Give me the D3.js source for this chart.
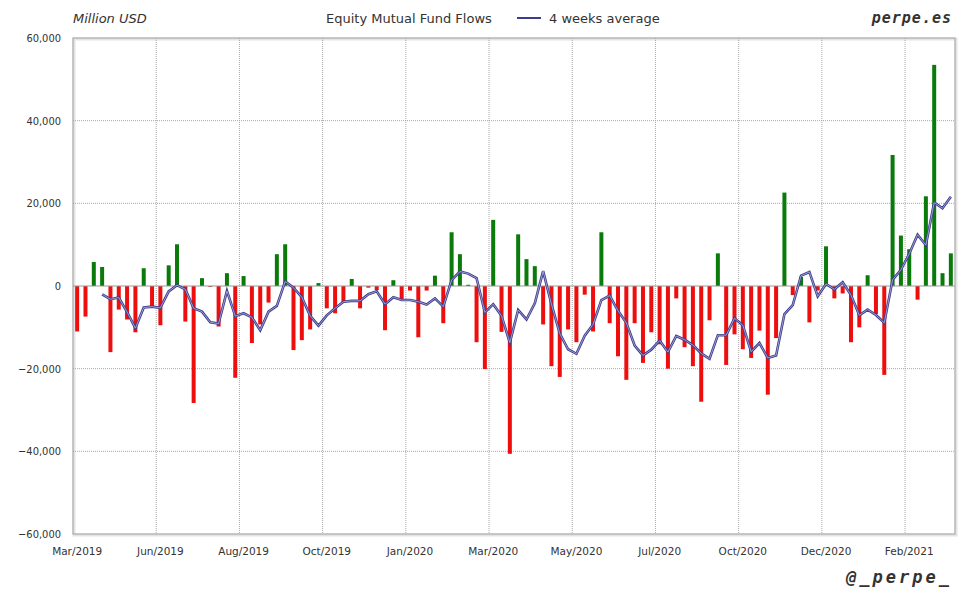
<!DOCTYPE html>
<html>
<head>
<meta charset="utf-8">
<script src="https://cdn.jsdelivr.net/npm/d3@7"></script>
<style>
  body { margin: 0; background: #fff; }
  text { font-family: "DejaVu Sans Condensed", "DejaVu Sans", sans-serif; fill: #333; }
</style>
</head>
<body>
<div id="chart"></div>
<script>
var svgWidth = 980;
var svgHeight = 600;

var margin = { top: 38, right: 25, bottom: 66, left: 73 };
var width = svgWidth - margin.left - margin.right;
var height = svgHeight - margin.top - margin.bottom;

// weekly flows, million USD
var flows = [
  -11000, -7400, 5800, 4600, -16000, -5700, -8100, -11200, 4300, -5000,
  -9500, 5000, 10100, -8600, -28300, 1900, -200, -9800, 3100, -22200,
  2400, -13800, -9300, -4000, 7700, 10100, -15500, -13100, -10500, 700,
  -5400, -6600, -4000, 1700, -5400, -400, -1000, -10700, 1400, -3300,
  -1100, -12400, -1100, 2500, -9000, 13000, 7700, 300, -13600, -20100,
  16000, -11100, -40600, 12500, 6500, 4800, -9300, -19400, -22000, -10500,
  -13600, -2100, -11000, 13000, -9000, -17000, -22700, -9000, -18600, -11200,
  -14100, -20000, -3000, -14800, -19400, -28000, -8300, 7900, -19100, -11700,
  -15300, -17400, -10800, -26300, -12600, 22600, -2200, 2200, -8800, -1100,
  9600, -3000, -1800, -13600, -10000, 2600, -6800, -21500, 31700, 12200,
  8900, -3300, 21700, 53500, 3100, 7900
];

// 4 weeks average line, starts at the 4th week
var avgStart = 3;
var avg4 = [
  -2000, -3200, -2800, -6300, -10200, -5200, -5000, -5300, -1300, 200,
  -800, -5400, -6200, -8800, -9100, -1200, -7300, -6600, -7600, -10700,
  -6200, -4800, 1100, -400, -2700, -7200, -9600, -7100, -5400, -3800,
  -3600, -3600, -2000, -1300, -4400, -2700, -3400, -3400, -3800, -4500,
  -3000, -5000, 1400, 3500, 3000, 1900, -6400, -4400, -7200, -13700,
  -5800, -8100, -4200, 3600, -4400, -11500, -15300, -16400, -12000, -9300,
  -3400, -2300, -6000, -8900, -14400, -16800, -15400, -13200, -16000, -12100,
  -13000, -14300, -16300, -17600, -11900, -11900, -7800, -9500, -15900, -13800,
  -17400, -16800, -6800, -4600, 2500, 3400, -2500, 500, -800, 900,
  -2200, -7100, -5700, -7000, -8900, 1500, 3900, 7800, 12400, 9900,
  20200, 18800, 21600
];

var tickLabels = ["Mar/2019", "Jun/2019", "Aug/2019", "Oct/2019", "Jan/2020", "Mar/2020",
  "May/2020", "Jul/2020", "Oct/2020", "Dec/2020", "Feb/2021"];
var tickEvery = 10;
var yTicks = [-60000, -40000, -20000, 0, 20000, 40000, 60000];

var svg = d3.select("#chart")
  .append("svg")
  .attr("width", svgWidth)
  .attr("height", svgHeight);

var chartGroup = svg.append("g")
  .attr("transform", `translate(${margin.left}, ${margin.top})`);

// scales
var xScale = d3.scaleBand()
  .domain(flows.map((d, i) => i))
  .range([0, width])
  .paddingInner(0.52)
  .paddingOuter(0.26);

var step = xScale.step();

var yScale = d3.scaleLinear()
  .domain([-60000, 60000])
  .range([height, 0]);

// plot frame shadow
chartGroup.append("rect")
  .attr("x", 1).attr("y", 1)
  .attr("width", width).attr("height", height)
  .attr("fill", "none")
  .attr("stroke", "#e4e4e4")
  .attr("stroke-width", 3);

// grid
chartGroup.selectAll(".hgrid")
  .data(yTicks.filter(d => d != 60000 && d != -60000 && d != 0))
  .enter()
  .append("line")
  .attr("x1", 0).attr("x2", width)
  .attr("y1", d => yScale(d)).attr("y2", d => yScale(d))
  .attr("stroke", "#a8a8a8")
  .attr("stroke-dasharray", "1,1");

chartGroup.selectAll(".vgrid")
  .data(tickLabels.map((d, i) => i * tickEvery).filter(d => d > 0))
  .enter()
  .append("line")
  .attr("x1", d => d * step).attr("x2", d => d * step)
  .attr("y1", 0).attr("y2", height)
  .attr("stroke", "#a8a8a8")
  .attr("stroke-dasharray", "1,1");

// bars
chartGroup.selectAll(".bar")
  .data(flows)
  .enter()
  .append("rect")
  .attr("x", (d, i) => xScale(i))
  .attr("width", xScale.bandwidth())
  .attr("y", d => yScale(Math.max(0, d)))
  .attr("height", d => Math.abs(yScale(d) - yScale(0)))
  .attr("fill", d => d >= 0 ? "#0a7a0a" : "#ee0e0e");

// zero line
chartGroup.append("line")
  .attr("x1", 0).attr("x2", width)
  .attr("y1", yScale(0)).attr("y2", yScale(0))
  .attr("stroke", "#999")
  .attr("stroke-width", 1);

// 4 weeks average
var line = d3.line()
  .x((d, i) => xScale(i + avgStart) + xScale.bandwidth() / 2)
  .y(d => yScale(d));

chartGroup.append("path")
  .datum(avg4)
  .attr("d", line)
  .attr("fill", "none")
  .attr("stroke", "#3d3d8f")
  .attr("stroke-width", 2.6);

chartGroup.append("path")
  .datum(avg4)
  .attr("d", line)
  .attr("fill", "none")
  .attr("stroke", "#b4b4dc")
  .attr("stroke-width", 0.8);

chartGroup.append("rect")
  .attr("width", width).attr("height", height)
  .attr("fill", "none")
  .attr("stroke", "#a0a0a0")
  .attr("stroke-width", 1);

// axes
var leftAxis = d3.axisLeft(yScale)
  .tickValues(yTicks)
  .tickFormat(d3.format(","))
  .tickSize(0)
  .tickPadding(12);

var yAxisG = chartGroup.append("g").call(leftAxis);
yAxisG.select(".domain").remove();
yAxisG.selectAll("text").style("font-size", "11px").attr("fill", "#333");

var bottomAxis = d3.axisBottom(xScale)
  .tickValues(tickLabels.map((d, i) => i * tickEvery))
  .tickFormat((d, i) => tickLabels[i])
  .tickSize(0)
  .tickPadding(14);

var xAxisG = chartGroup.append("g")
  .attr("transform", `translate(0, ${height})`)
  .call(bottomAxis);
xAxisG.select(".domain").remove();
xAxisG.selectAll("text")
  .style("font-family", "'DejaVu Sans', sans-serif")
  .style("font-size", "10.5px")
  .attr("fill", "#333");

// header
svg.append("text")
  .attr("x", 73).attr("y", 23)
  .style("font-family", "'DejaVu Sans', sans-serif")
  .style("font-size", "13px")
  .style("font-style", "italic")
  .text("Million USD");

svg.append("text")
  .attr("x", 326).attr("y", 23)
  .style("font-family", "'DejaVu Sans', sans-serif")
  .style("font-size", "13px")
  .text("Equity Mutual Fund Flows");

svg.append("line")
  .attr("x1", 517).attr("x2", 541)
  .attr("y1", 18).attr("y2", 18)
  .attr("stroke", "#3d3d8f")
  .attr("stroke-width", 2);

svg.append("text")
  .attr("x", 549).attr("y", 23)
  .style("font-family", "'DejaVu Sans', sans-serif")
  .style("font-size", "13px")
  .text("4 weeks average");

svg.append("text")
  .attr("x", 952).attr("y", 23)
  .attr("text-anchor", "end")
  .style("font-family", "'DejaVu Sans Mono', monospace")
  .style("font-size", "15px")
  .style("font-weight", "bold")
  .style("font-style", "italic")
  .style("letter-spacing", "1px")
  .attr("fill", "#858585")
  .text("perpe.es");

svg.append("text")
  .attr("x", 952).attr("y", 583)
  .attr("text-anchor", "end")
  .style("font-family", "'DejaVu Sans Mono', monospace")
  .style("font-size", "17px")
  .style("font-weight", "bold")
  .style("font-style", "italic")
  .style("letter-spacing", "3px")
  .attr("fill", "#858585")
  .text("@_perpe_");
</script>
</body>
</html>
